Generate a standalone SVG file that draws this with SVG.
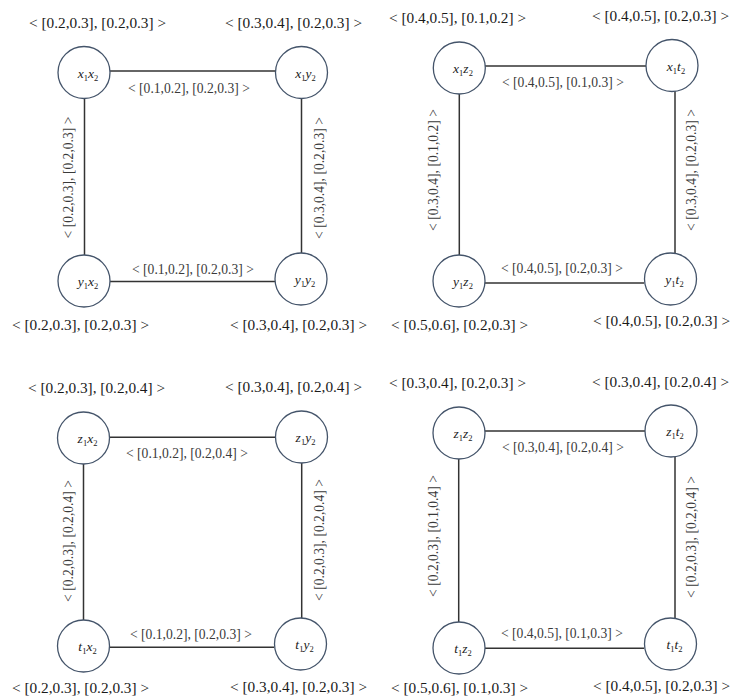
<svg xmlns="http://www.w3.org/2000/svg" width="732" height="698" viewBox="0 0 732 698">
<style>
.w{font-family:"Liberation Serif","Times New Roman",serif;font-size:15.3px;fill:#1a1a1a}
.e{font-family:"Liberation Serif","Times New Roman",serif;font-size:13.6px;fill:#3a3a3a}
.n{font-family:"Liberation Serif","Times New Roman",serif;font-size:13.5px;font-style:italic;fill:#222;text-anchor:middle}
.n .s{font-size:8.5px;font-style:normal}
.v{text-anchor:middle}
circle{fill:#fff;stroke:#44546a;stroke-width:1.3}
line{stroke:#333;stroke-width:1.5}
</style>
<rect width="732" height="698" fill="#fff"/>
<g id="connectors">
<line x1="110" y1="71" x2="276" y2="71"/>
<line x1="110" y1="281.5" x2="275" y2="281.5"/>
<line x1="84.5" y1="99" x2="84.5" y2="255"/>
<line x1="301.5" y1="99" x2="301.5" y2="253"/>
<line x1="485" y1="66" x2="646" y2="66"/>
<line x1="485" y1="283" x2="644" y2="283"/>
<line x1="459.3" y1="94" x2="459.3" y2="255"/>
<line x1="675" y1="91" x2="675" y2="253"/>
<line x1="110" y1="437.3" x2="275" y2="437.3"/>
<line x1="110" y1="647.3" x2="274" y2="647.3"/>
<line x1="83.5" y1="464" x2="83.5" y2="620"/>
<line x1="301.7" y1="463" x2="301.7" y2="618"/>
<line x1="485" y1="431" x2="645" y2="431"/>
<line x1="485" y1="648.3" x2="644" y2="648.3"/>
<line x1="458.7" y1="459" x2="458.7" y2="622"/>
<line x1="675" y1="457" x2="675" y2="618"/>
</g>
<g id="edge-labels">
<text class="e" x="128" y="93">&lt; [0.1,0.2], [0.2,0.3] &gt;</text>
<text class="e" x="132" y="274">&lt; [0.1,0.2], [0.2,0.3] &gt;</text>
<text class="e v" transform="translate(73,177.5) rotate(-90)">&lt; [0.2,0.3], [0.2,0.3] &gt;</text>
<text class="e v" transform="translate(324,178) rotate(-90)">&lt; [0.3,0.4], [0.2,0.3] &gt;</text>
<text class="e" x="502" y="87">&lt; [0.4,0.5], [0.1,0.3] &gt;</text>
<text class="e" x="501" y="273">&lt; [0.4,0.5], [0.2,0.3] &gt;</text>
<text class="e v" transform="translate(438,170) rotate(-90)">&lt; [0.3,0.4], [0.1,0.2] &gt;</text>
<text class="e v" transform="translate(696,170) rotate(-90)">&lt; [0.3,0.4], [0.2,0.3] &gt;</text>
<text class="e" x="126" y="458">&lt; [0.1,0.2], [0.2,0.4] &gt;</text>
<text class="e" x="130" y="639">&lt; [0.1,0.2], [0.2,0.3] &gt;</text>
<text class="e v" transform="translate(73,541) rotate(-90)">&lt; [0.2,0.3], [0.2,0.4] &gt;</text>
<text class="e v" transform="translate(324,540) rotate(-90)">&lt; [0.2,0.3], [0.2,0.4] &gt;</text>
<text class="e" x="502" y="452">&lt; [0.3,0.4], [0.2,0.4] &gt;</text>
<text class="e" x="501" y="638">&lt; [0.4,0.5], [0.1,0.3] &gt;</text>
<text class="e v" transform="translate(438,536) rotate(-90)">&lt; [0.2,0.3], [0.1,0.4] &gt;</text>
<text class="e v" transform="translate(696,537) rotate(-90)">&lt; [0.2,0.3], [0.2,0.4] &gt;</text>
</g>
<g id="x1x2"><circle cx="84" cy="72.5" r="26"/><text class="n" x="88" y="77.5">x<tspan class="s" dy="3">1</tspan><tspan dy="-3">x</tspan><tspan class="s" dy="3">2</tspan></text><text class="w" x="29" y="28">&lt; [0.2,0.3], [0.2,0.3] &gt;</text></g>
<g id="x1y2"><circle cx="301.5" cy="72.5" r="26"/><text class="n" x="305.5" y="77.5">x<tspan class="s" dy="3">1</tspan><tspan dy="-3">y</tspan><tspan class="s" dy="3">2</tspan></text><text class="w" x="225" y="28">&lt; [0.3,0.4], [0.2,0.3] &gt;</text></g>
<g id="y1x2"><circle cx="84" cy="281" r="26"/><text class="n" x="88" y="286">y<tspan class="s" dy="3">1</tspan><tspan dy="-3">x</tspan><tspan class="s" dy="3">2</tspan></text><text class="w" x="12" y="330">&lt; [0.2,0.3], [0.2,0.3] &gt;</text></g>
<g id="y1y2"><circle cx="301" cy="279" r="26"/><text class="n" x="305" y="284">y<tspan class="s" dy="3">1</tspan><tspan dy="-3">y</tspan><tspan class="s" dy="3">2</tspan></text><text class="w" x="230" y="330">&lt; [0.3,0.4], [0.2,0.3] &gt;</text></g>
<g id="x1z2"><circle cx="459.3" cy="68" r="26"/><text class="n" x="463" y="73">x<tspan class="s" dy="3">1</tspan><tspan dy="-3">z</tspan><tspan class="s" dy="3">2</tspan></text><text class="w" x="389" y="23">&lt; [0.4,0.5], [0.1,0.2] &gt;</text></g>
<g id="x1t2"><circle cx="672" cy="65.5" r="26"/><text class="n" x="676" y="70.5">x<tspan class="s" dy="3">1</tspan><tspan dy="-3">t</tspan><tspan class="s" dy="3">2</tspan></text><text class="w" x="592" y="21">&lt; [0.4,0.5], [0.2,0.3] &gt;</text></g>
<g id="y1z2"><circle cx="459" cy="281" r="26"/><text class="n" x="463" y="286">y<tspan class="s" dy="3">1</tspan><tspan dy="-3">z</tspan><tspan class="s" dy="3">2</tspan></text><text class="w" x="391" y="330">&lt; [0.5,0.6], [0.2,0.3] &gt;</text></g>
<g id="y1t2"><circle cx="670.5" cy="279" r="26"/><text class="n" x="674.5" y="284">y<tspan class="s" dy="3">1</tspan><tspan dy="-3">t</tspan><tspan class="s" dy="3">2</tspan></text><text class="w" x="593" y="326">&lt; [0.4,0.5], [0.2,0.3] &gt;</text></g>
<g id="z1x2"><circle cx="83.5" cy="438" r="26"/><text class="n" x="87.5" y="443">z<tspan class="s" dy="3">1</tspan><tspan dy="-3">x</tspan><tspan class="s" dy="3">2</tspan></text><text class="w" x="28" y="393">&lt; [0.2,0.3], [0.2,0.4] &gt;</text></g>
<g id="z1y2"><circle cx="301.5" cy="437" r="26"/><text class="n" x="305.5" y="442">z<tspan class="s" dy="3">1</tspan><tspan dy="-3">y</tspan><tspan class="s" dy="3">2</tspan></text><text class="w" x="225" y="392">&lt; [0.3,0.4], [0.2,0.4] &gt;</text></g>
<g id="t1x2"><circle cx="83.5" cy="646" r="26"/><text class="n" x="87.5" y="651">t<tspan class="s" dy="3">1</tspan><tspan dy="-3">x</tspan><tspan class="s" dy="3">2</tspan></text><text class="w" x="12" y="693">&lt; [0.2,0.3], [0.2,0.3] &gt;</text></g>
<g id="t1y2"><circle cx="300.5" cy="644" r="26"/><text class="n" x="304.5" y="649">t<tspan class="s" dy="3">1</tspan><tspan dy="-3">y</tspan><tspan class="s" dy="3">2</tspan></text><text class="w" x="230" y="692">&lt; [0.3,0.4], [0.2,0.3] &gt;</text></g>
<g id="z1z2"><circle cx="459" cy="433" r="26"/><text class="n" x="463" y="438">z<tspan class="s" dy="3">1</tspan><tspan dy="-3">z</tspan><tspan class="s" dy="3">2</tspan></text><text class="w" x="389" y="388">&lt; [0.3,0.4], [0.2,0.3] &gt;</text></g>
<g id="z1t2"><circle cx="671" cy="431" r="26"/><text class="n" x="675" y="436">z<tspan class="s" dy="3">1</tspan><tspan dy="-3">t</tspan><tspan class="s" dy="3">2</tspan></text><text class="w" x="592" y="387">&lt; [0.3,0.4], [0.2,0.4] &gt;</text></g>
<g id="t1z2"><circle cx="459" cy="648" r="26"/><text class="n" x="463" y="653">t<tspan class="s" dy="3">1</tspan><tspan dy="-3">z</tspan><tspan class="s" dy="3">2</tspan></text><text class="w" x="391" y="693">&lt; [0.5,0.6], [0.1,0.3] &gt;</text></g>
<g id="t1t2"><circle cx="670.5" cy="644" r="26"/><text class="n" x="674.5" y="649">t<tspan class="s" dy="3">1</tspan><tspan dy="-3">t</tspan><tspan class="s" dy="3">2</tspan></text><text class="w" x="593" y="691">&lt; [0.4,0.5], [0.2,0.3] &gt;</text></g>
</svg>
